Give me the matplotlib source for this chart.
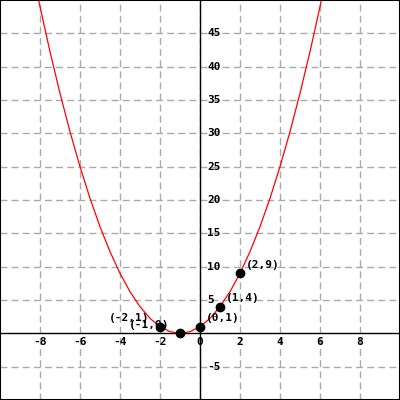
import numpy as np
import matplotlib.pyplot as plt

# curve samples
curve_x = [-8.5, -8, -7.5, -7, -6.5, -6, -5.5, -5, -4.5, -4, -3.5, -3, -2.5, -2, -1.5, -1,
           -0.5, 0, 0.5, 1, 1.5, 2, 2.5, 3, 3.5, 4, 4.5, 5, 5.5, 6, 6.5]
curve_y = [56.25, 49, 42.25, 36, 30.25, 25, 20.25, 16, 12.25, 9, 6.25, 4, 2.25, 1, 0.25, 0,
           0.25, 1, 2.25, 4, 6.25, 9, 12.25, 16, 20.25, 25, 30.25, 36, 42.25, 49, 56.25]

# marked points
pt_x = [-2, -1, 0, 1, 2]
pt_y = [1, 0, 1, 4, 9]

x_ticks = [-8, -6, -4, -2, 0, 2, 4, 6, 8]
y_ticks = [-5, 5, 10, 15, 20, 25, 30, 35, 40, 45]

fig = plt.figure(figsize=(4, 4), dpi=100)
ax = fig.add_axes([0, 0, 1, 1])
ax.set_xlim(-10, 10)
ax.set_ylim(-10, 50)

for x in x_ticks:
    ax.axvline(x, color='#aaaaaa', lw=1, ls=(0, (5, 3)), zorder=0)
for y in y_ticks:
    ax.axhline(y, color='#aaaaaa', lw=1, ls=(0, (5, 3)), zorder=0)

ax.axhline(0, color='black', lw=1, zorder=1)
ax.axvline(0, color='black', lw=1, zorder=1)

ax.plot(curve_x, curve_y, color='red', lw=0.9, zorder=2)
ax.scatter(pt_x, pt_y, s=36, color='black', zorder=3)

font = dict(family='DejaVu Sans Mono', fontweight='bold', fontsize=8)
for x in x_ticks:
    ax.text(x, 0, str(x), ha='center', va='top', transform=ax.transData, **font,
            zorder=4).set_position((x, -0.6))
for y in y_ticks:
    ax.text(0.35, y, str(y), ha='left', va='center', **font, zorder=4)

for x, y in zip(pt_x, pt_y):
    label = f'({x},{y})'
    if x < 0:
        ax.annotate(label, (x, y), xytext=(-8, 6), textcoords='offset points',
                    ha='right', va='center', **font, zorder=2)
    else:
        ax.annotate(label, (x, y), xytext=(4, 6), textcoords='offset points',
                    ha='left', va='center', **font, zorder=4)

ax.set_xticks([])
ax.set_yticks([])
for s in ax.spines.values():
    s.set_linewidth(1.5)
    s.set_color('black')

fig.savefig('out.png', dpi=100)
